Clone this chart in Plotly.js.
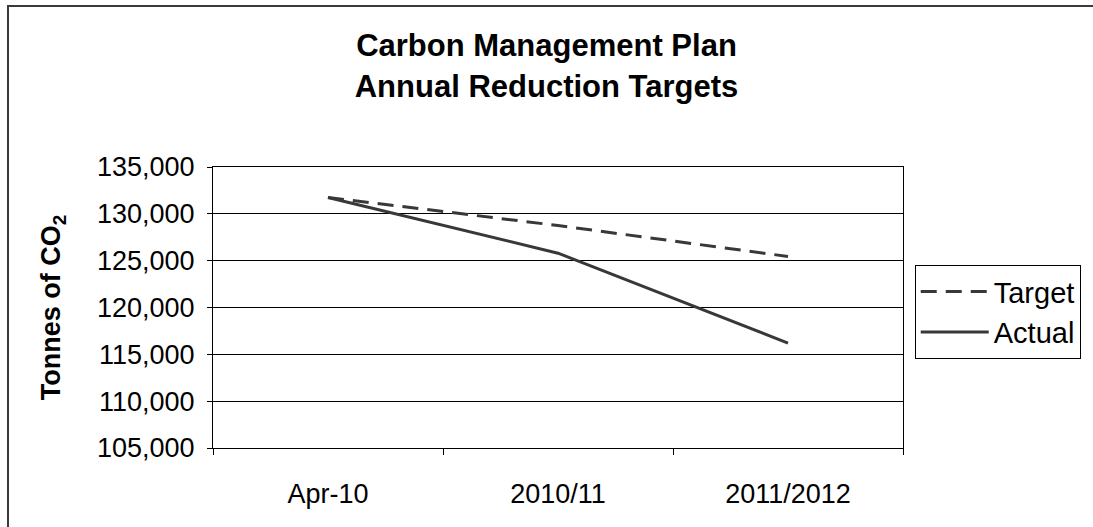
<!DOCTYPE html>
<html>
<head>
<meta charset="utf-8">
<script src="https://cdn.plot.ly/plotly-3.0.1.min.js"></script>
<style>
  html, body { margin: 0; padding: 0; background: #ffffff; }
  #wrap { position: relative; width: 1093px; height: 527px; overflow: hidden; }
  #chart { width: 1093px; height: 527px; }
  #frame { position: absolute; left: 7px; top: 5px; width: 1200px; height: 600px;
           border-left: 2px solid #3a3a3a; border-top: 2px solid #3a3a3a; pointer-events: none; }
</style>
</head>
<body>
<div id="wrap">
  <div id="chart"></div>
  <div id="frame"></div>
</div>
<script>
const categories = ["Apr-10", "2010/11", "2011/2012"];
const targetValues = [131750, 128750, 125450];
const actualValues = [131750, 125800, 116200];
const yTickValues = [105000, 110000, 115000, 120000, 125000, 130000, 135000];

const FONT = "Liberation Sans, Arial, Helvetica, sans-serif";
const LINE = "#383838";

const traces = [
  {
    type: "scatter", mode: "lines", name: "Target",
    x: categories, y: targetValues,
    line: { color: LINE, width: 3, dash: "16px,9px" }
  },
  {
    type: "scatter", mode: "lines", name: "Actual",
    x: categories, y: actualValues,
    line: { color: LINE, width: 3 }
  }
];

const layout = {
  width: 1093, height: 527,
  margin: { l: 213, r: 188, t: 167, b: 79 },
  paper_bgcolor: "#ffffff",
  plot_bgcolor: "#ffffff",
  font: { family: FONT, color: "#000000" },
  title: {
    text: "Carbon Management Plan<br>Annual Reduction Targets",
    font: { family: FONT, size: 31, weight: "bold", color: "#000000" },
    x: 0.5, xref: "container", xanchor: "center",
    y: 0.893, yref: "container", yanchor: "top"
  },
  xaxis: {
    type: "category",
    range: [-0.5, categories.length - 0.5],
    tickson: "boundaries",
    ticks: "outside", ticklen: 6, tickcolor: "#000000", tickwidth: 1,
    ticklabelstandoff: 22,
    showgrid: false,
    showline: true, linecolor: "#000000", linewidth: 1, mirror: true,
    tickfont: { family: FONT, size: 27, color: "#000000" },
    zeroline: false,
    fixedrange: true
  },
  yaxis: {
    range: [105000, 135000],
    tickvals: yTickValues,
    tickformat: ",d",
    ticks: "outside", ticklen: 5, tickcolor: "#000000", tickwidth: 1,
    ticklabelstandoff: 7,
    showgrid: true, gridcolor: "#000000", gridwidth: 1,
    showline: true, linecolor: "#000000", linewidth: 1, mirror: true,
    zeroline: false,
    tickfont: { family: FONT, size: 27, color: "#000000" },
    title: {
      text: "Tonnes of CO<sub>2</sub>",
      font: { family: FONT, size: 27, weight: "bold", color: "#000000" },
      standoff: 28
    },
    fixedrange: true
  },
  showlegend: true,
  legend: {
    x: 1.017, xanchor: "left",
    y: 0.651, yanchor: "top",
    bordercolor: "#000000", borderwidth: 1,
    bgcolor: "#ffffff",
    font: { family: FONT, size: 29, color: "#000000" },
    itemwidth: 68,
    traceorder: "normal"
  }
};

Plotly.newPlot("chart", traces, layout, { displayModeBar: false, staticPlot: true });
</script>
</body>
</html>
